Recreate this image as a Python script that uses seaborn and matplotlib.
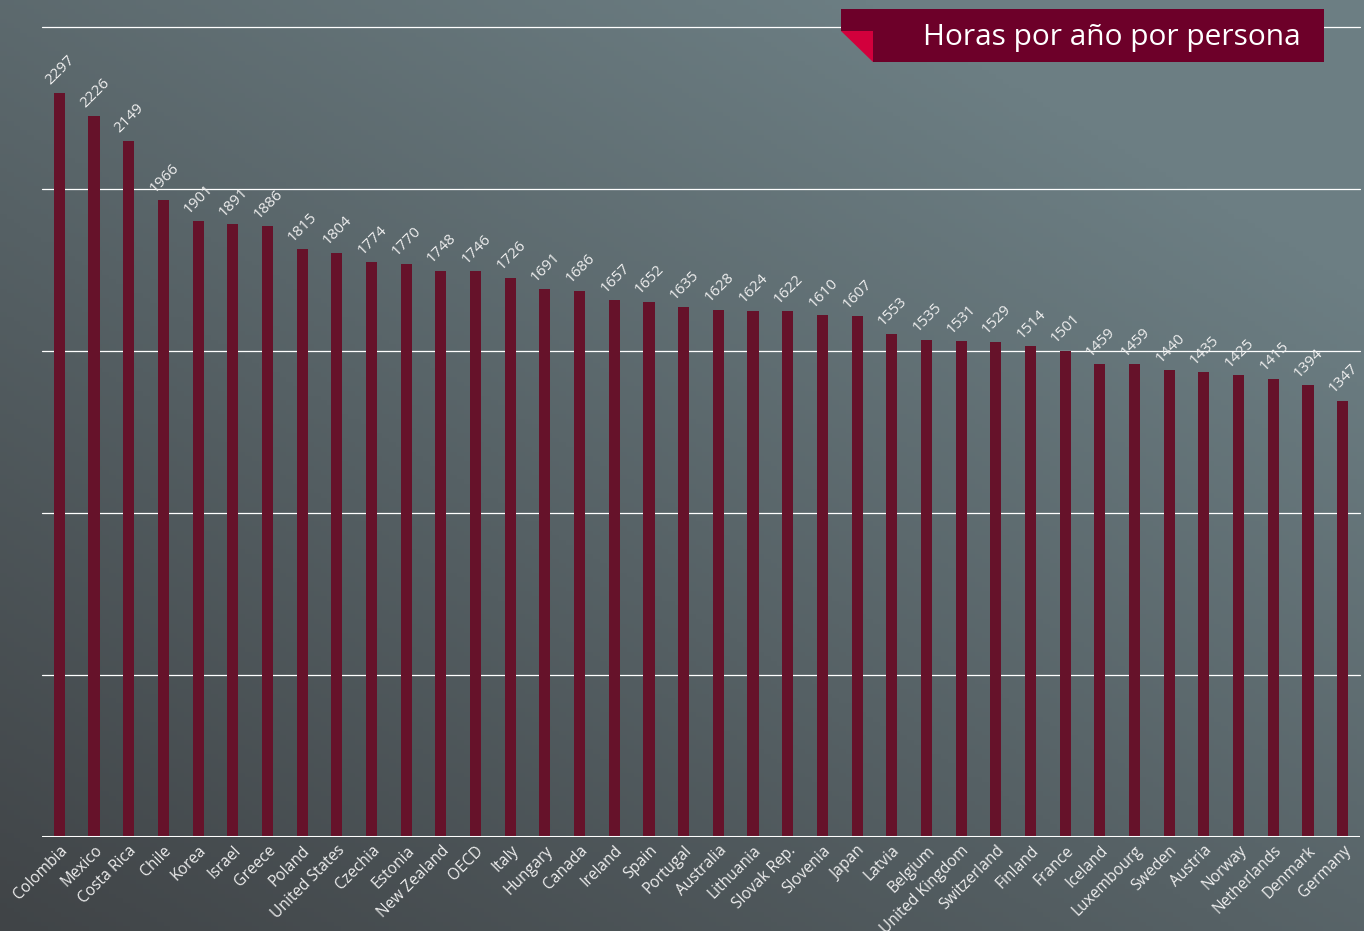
import numpy as np
import pandas as pd
import matplotlib.pyplot as plt
import seaborn as sns
from matplotlib.patches import Polygon

countries = ["Colombia", "Mexico", "Costa Rica", "Chile", "Korea", "Israel", "Greece",
             "Poland", "United States", "Czechia", "Estonia", "New Zealand", "OECD",
             "Italy", "Hungary", "Canada", "Ireland", "Spain", "Portugal", "Australia",
             "Lithuania", "Slovak Rep.", "Slovenia", "Japan", "Latvia", "Belgium",
             "United Kingdom", "Switzerland", "Finland", "France", "Iceland",
             "Luxembourg", "Sweden", "Austria", "Norway", "Netherlands", "Denmark",
             "Germany"]
hours = [2297, 2226, 2149, 1966, 1901, 1891, 1886, 1815, 1804, 1774, 1770, 1748,
         1746, 1726, 1691, 1686, 1657, 1652, 1635, 1628, 1624, 1622, 1610, 1607,
         1553, 1535, 1531, 1529, 1514, 1501, 1459, 1459, 1440, 1435, 1425, 1415,
         1394, 1347]
title = "Horas por año por persona"

df = pd.DataFrame({"country": countries, "hours": hours})

sns.set_theme(style="white")
plt.rcParams["font.family"] = ["Open Sans", "DejaVu Sans"]

W, H = 1364, 931
fig = plt.figure(figsize=(W / 100, H / 100), dpi=100)

# gradient background: dark bottom-left -> lighter top-right
bg = fig.add_axes([0, 0, 1, 1], zorder=-10)
yy, xx = np.mgrid[0:1:200j, 0:1:200j]
t = np.clip(0.55 * xx + 0.65 * yy, 0, 1)
c0 = np.array([0x40, 0x44, 0x47]) / 255
c1 = np.array([0x6c, 0x7e, 0x83]) / 255
img = c0[None, None, :] * (1 - t[..., None]) + c1[None, None, :] * t[..., None]
bg.imshow(img, origin="lower", extent=[0, 1, 0, 1], aspect="auto")
bg.axis("off")

ax = fig.add_axes([42 / W, 1 - 837 / H, (1360 - 42) / W, (837 - 27) / H])
ax.patch.set_alpha(0)

sns.barplot(data=df, x="country", y="hours", color="#66122a", width=0.32,
            saturation=1, linewidth=0, ax=ax, zorder=3)

ax.set_ylim(0, 2500)
ax.set_xlim(-0.5, len(countries) - 0.5)
for v in [500, 1000, 1500, 2000, 2500]:
    ax.axhline(v, color="white", lw=0.9, zorder=1, clip_on=False)
ax.axhline(0, color="white", lw=2.2, zorder=4)

for i, v in enumerate(hours):
    ax.text(i - 0.18, v + 14, str(v), rotation=45, rotation_mode="anchor",
            ha="left", va="bottom", color="#eeeeee", fontsize=11)

ax.set_yticks([])
ax.set_xlabel("")
ax.set_ylabel("")
ax.set_xticks(range(len(countries)))
ax.set_xticklabels(countries, rotation=45, ha="right", rotation_mode="anchor",
                   color="#eeeeee", fontsize=11.2)
ax.tick_params(axis="x", length=0, pad=4)
for s in ax.spines.values():
    s.set_visible(False)

# title tag
def fx(px):
    return px / W

def fy(py):
    return 1 - py / H

box = Polygon([(fx(841), fy(9)), (fx(1324), fy(9)), (fx(1324), fy(62)),
               (fx(873), fy(62)), (fx(873), fy(31)), (fx(841), fy(31))],
              closed=True, transform=fig.transFigure, facecolor="#6d0029",
              edgecolor="none", zorder=5)
fold = Polygon([(fx(841), fy(31)), (fx(873), fy(31)), (fx(873), fy(62))],
               closed=True, transform=fig.transFigure, facecolor="#d2003c",
               edgecolor="none", zorder=6)
fig.add_artist(box)
fig.add_artist(fold)
fig.text(fx(1301), fy(37), title, ha="right", va="center", color="white",
         fontsize=21.5, family=["Open Sans", "DejaVu Sans"], zorder=7)

fig.savefig("out.png", dpi=100)
